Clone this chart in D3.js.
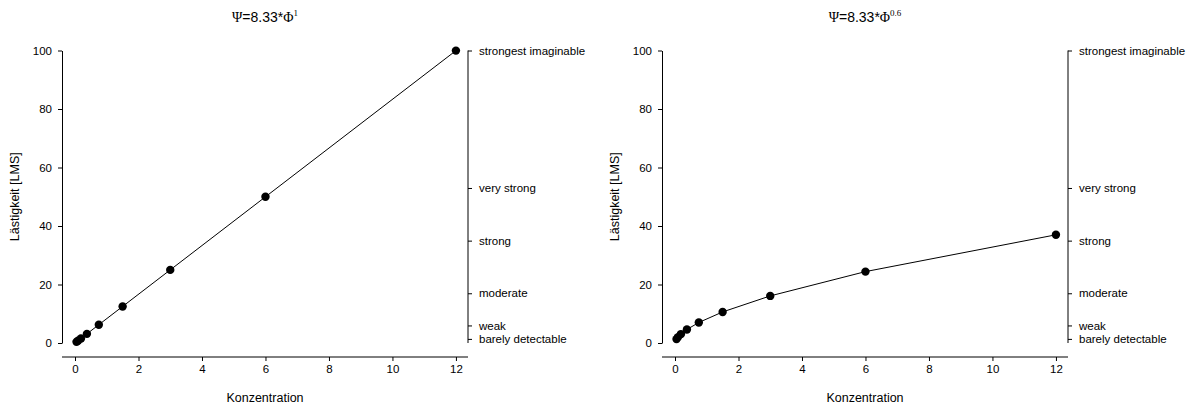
<!DOCTYPE html>
<html>
<head>
<meta charset="utf-8">
<script src="https://cdn.jsdelivr.net/npm/d3@7"></script>
<style>
  html, body { margin: 0; padding: 0; background: #fff; }
  svg { display: block; }
  text { font-family: "Liberation Sans", Arial, sans-serif; fill: #000; }
</style>
</head>
<body>
<svg id="chart" width="1187" height="408"></svg>
<script>
// Stimulus concentrations (halving dilution series)
const concentration = [12, 6, 3, 1.5, 0.75, 0.375, 0.1875, 0.09375, 0.046875];
// Annoyance ratings on the Labeled Magnitude Scale, exponent 1
const annoyanceLinear = [99.96, 49.98, 24.99, 12.5, 6.25, 3.12, 1.56, 0.78, 0.39];
// Annoyance ratings on the Labeled Magnitude Scale, exponent 0.6
const annoyancePower = [36.99, 24.41, 16.10, 10.62, 7.01, 4.62, 3.05, 2.01, 1.33];

const exponents = ["1", "0.6"];
const xTicks = [0, 2, 4, 6, 8, 10, 12];
const yTicks = [0, 20, 40, 60, 80, 100];
const lmsValues = [1.4, 6, 17, 35, 53, 100];
const lmsLabels = ["barely detectable", "weak", "moderate", "strong", "very strong", "strongest imaginable"];

const svg = d3.select("#chart");

function drawPanel(offsetX, values, exponent) {
  const g = svg.append("g").attr("transform", `translate(${offsetX},0)`);

  const x = d3.scaleLinear().domain([-0.41, 12.38]).range([62, 468]);
  const y = d3.scaleLinear().domain([0, 100]).range([343, 50.5]);
  const axisY = 357;

  // Title: Ψ=8.33*Φ^exponent
  const title = g.append("text")
    .attr("x", 265).attr("y", 22)
    .attr("text-anchor", "middle")
    .style("font-size", "14px");
  title.append("tspan").style("font-family", "'Liberation Serif', 'Times New Roman', serif").text("Ψ");
  title.append("tspan").text("=8.33*");
  title.append("tspan").style("font-family", "'Liberation Serif', 'Times New Roman', serif").text("Φ");
  title.append("tspan")
    .style("font-family", "'Liberation Serif', 'Times New Roman', serif")
    .style("font-size", "9px")
    .attr("dy", -6).text(exponent);

  // Bottom axis spanning the full plot region
  const xAxis = g.append("g").attr("transform", `translate(0,${axisY})`)
    .call(d3.axisBottom(x).tickValues(xTicks).tickSize(4).tickPadding(4).tickFormat(d3.format("d")));
  xAxis.select(".domain").attr("d", `M${x.range()[0]},0H${x.range()[1]}`).attr("stroke", "#000");
  xAxis.selectAll(".tick line").attr("stroke", "#000");
  xAxis.selectAll("text").style("font-size", "11.5px").attr("font-family", null).attr("fill", "#000");

  // Left axis
  const yAxis = g.append("g").attr("transform", `translate(${x.range()[0]},0)`)
    .call(d3.axisLeft(y).tickValues(yTicks).tickSize(4).tickPadding(6).tickSizeOuter(0));
  yAxis.select(".domain").attr("stroke", "#000");
  yAxis.selectAll("text").style("font-size", "11.5px").attr("font-family", null).attr("fill", "#000");

  // Right axis with LMS verbal anchors
  const rAxis = g.append("g").attr("transform", `translate(${x.range()[1]},0)`)
    .call(d3.axisRight(y).tickValues(lmsValues).tickSize(4).tickPadding(7).tickSizeOuter(0)
      .tickFormat((d, i) => lmsLabels[i]));
  rAxis.select(".domain").attr("d", `M0,${y(0)}V${y(100)}`).attr("stroke", "#000");
  rAxis.selectAll("text").style("font-size", "11.5px").attr("font-family", null).attr("fill", "#000");

  // Axis titles
  g.append("text")
    .attr("x", 265).attr("y", 402)
    .attr("text-anchor", "middle")
    .style("font-size", "12.5px")
    .text("Konzentration");
  g.append("text")
    .attr("transform", `translate(19,${(y(0) + y(100)) / 2}) rotate(-90)`)
    .attr("text-anchor", "middle")
    .style("font-size", "12.5px")
    .text("Lästigkeit [LMS]");

  const pts = concentration.map((c, i) => ({ c, v: values[i] }));

  g.append("path")
    .datum(pts)
    .attr("fill", "none")
    .attr("stroke", "#000")
    .attr("stroke-width", 1)
    .attr("d", d3.line().x(d => x(d.c)).y(d => y(d.v)));

  g.selectAll("circle.pt")
    .data(pts)
    .join("circle")
    .attr("class", "pt")
    .attr("cx", d => x(d.c))
    .attr("cy", d => y(d.v))
    .attr("r", 4.2)
    .attr("fill", "#000");
}

drawPanel(0, annoyanceLinear, exponents[0]);
drawPanel(600, annoyancePower, exponents[1]);
</script>
</body>
</html>
